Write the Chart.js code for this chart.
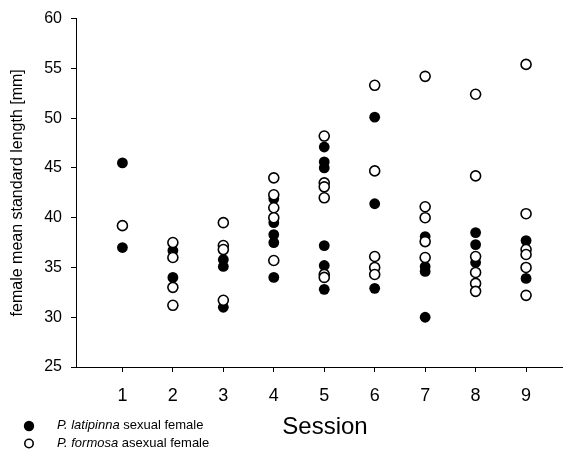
<!DOCTYPE html>
<html>
<head>
<meta charset="utf-8">
<script src="https://cdn.jsdelivr.net/npm/chart.js@4/dist/chart.umd.min.js"></script>
<style>
  html, body { margin: 0; padding: 0; background: #fff; }
  #wrap { width: 569px; height: 451px; }
</style>
</head>
<body>
<div id="wrap"><canvas id="myChart"></canvas></div>
<script>
const sessions = [1, 2, 3, 4, 5, 6, 7, 8, 9];
const yTicks = [25, 30, 35, 40, 45, 50, 55, 60];

// P. latipinna (filled), one list per session
const sexualLengths = [
  [45.5, 37.0],
  [36.7, 34.0],
  [35.8, 35.1, 31.0],
  [41.9, 39.5, 38.3, 37.5, 34.0],
  [47.1, 45.6, 45.0, 37.2, 35.2, 32.8],
  [50.1, 41.4, 32.9],
  [38.1, 35.1, 34.6, 30.0],
  [38.5, 37.3, 35.5],
  [37.7, 33.9]
];

// P. formosa (open)
const asexualLengths = [
  [39.2],
  [37.5, 36.0, 33.0, 31.2],
  [39.5, 37.2, 36.8, 31.7],
  [44.0, 42.3, 41.0, 40.0, 35.7],
  [48.2, 43.5, 43.1, 42.0, 34.3, 34.0],
  [53.3, 44.7, 36.1, 35.0, 34.3],
  [54.2, 41.1, 40.0, 37.6, 36.0],
  [52.4, 44.2, 36.1, 34.5, 33.4, 32.6],
  [55.4, 40.4, 36.8, 36.3, 35.0, 32.2]
];

const FONT = "'Liberation Sans', Arial, sans-serif";

function toPoints(lists) {
  const pts = [];
  lists.forEach((vals, i) => vals.forEach(v => pts.push({ x: sessions[i], y: v })));
  return pts;
}

const legendPlugin = {
  id: "bottomLegend",
  afterDraw(chart) {
    const ctx = chart.ctx;
    ctx.save();
    // x title, a bit right of the axis centre like the original
    ctx.fillStyle = "#000";
    ctx.font = "24px " + FONT;
    ctx.textAlign = "center";
    ctx.textBaseline = "middle";
    ctx.fillText("Session", 325, 427);

    // filled marker
    ctx.beginPath();
    ctx.arc(29, 426, 5.2, 0, Math.PI * 2);
    ctx.fill();
    // open marker
    ctx.strokeStyle = "#000";
    ctx.lineWidth = 1.6;
    ctx.fillStyle = "#fff";
    ctx.beginPath();
    ctx.arc(29, 443.5, 4.2, 0, Math.PI * 2);
    ctx.fill();
    ctx.stroke();

    ctx.fillStyle = "#000";
    ctx.textAlign = "left";
    const rows = [["P. latipinna", " sexual female", 425], ["P. formosa", " asexual female", 443]];
    rows.forEach(r => {
      ctx.font = "italic 13px " + FONT;
      ctx.fillText(r[0], 57, r[2]);
      const w = ctx.measureText(r[0]).width;
      ctx.font = "13px " + FONT;
      ctx.fillText(r[1], 57 + w, r[2]);
    });
    ctx.restore();
  }
};

new Chart(document.getElementById("myChart"), {
  type: "scatter",
  data: {
    datasets: [
      {
        label: "P. formosa asexual female",
        data: toPoints(asexualLengths),
        pointRadius: 5,
        pointBorderWidth: 1.6,
        pointBackgroundColor: "#fff",
        pointBorderColor: "#000",
        order: 0
      },
      {
        label: "P. latipinna sexual female",
        data: toPoints(sexualLengths),
        pointRadius: 5.4,
        pointBorderWidth: 0,
        pointBackgroundColor: "#000",
        pointBorderColor: "#000",
        order: 1
      }
    ]
  },
  options: {
    responsive: true,
    maintainAspectRatio: false,
    animation: false,
    layout: { padding: { left: 0, top: 17, right: 3, bottom: 0 } },
    plugins: { legend: { display: false }, tooltip: { enabled: false } },
    scales: {
      x: {
        type: "linear",
        min: 0.08,
        max: 9.72,
        afterBuildTicks: axis => { axis.ticks = sessions.map(v => ({ value: v })); },
        afterFit: scale => { scale.height = 84; },
        border: { color: "#000", width: 1 },
        grid: { drawOnChartArea: false, tickLength: 5, color: "#000" },
        ticks: { color: "#000", font: { family: FONT, size: 18 }, padding: 13 },
        title: { display: false }
      },
      y: {
        min: 25,
        max: 60,
        afterBuildTicks: axis => { axis.ticks = yTicks.map(v => ({ value: v })); },
        afterFit: scale => { scale.width = 76; },
        border: { color: "#000", width: 1 },
        grid: { drawOnChartArea: false, tickLength: 5, color: "#000" },
        ticks: { color: "#000", font: { family: FONT, size: 16 }, padding: 9 },
        title: {
          display: true,
          text: "female mean standard length [mm]",
          color: "#000",
          font: { family: FONT, size: 16 },
          padding: { top: 8, bottom: 0 }
        }
      }
    }
  },
  plugins: [legendPlugin]
});
</script>
</body>
</html>
